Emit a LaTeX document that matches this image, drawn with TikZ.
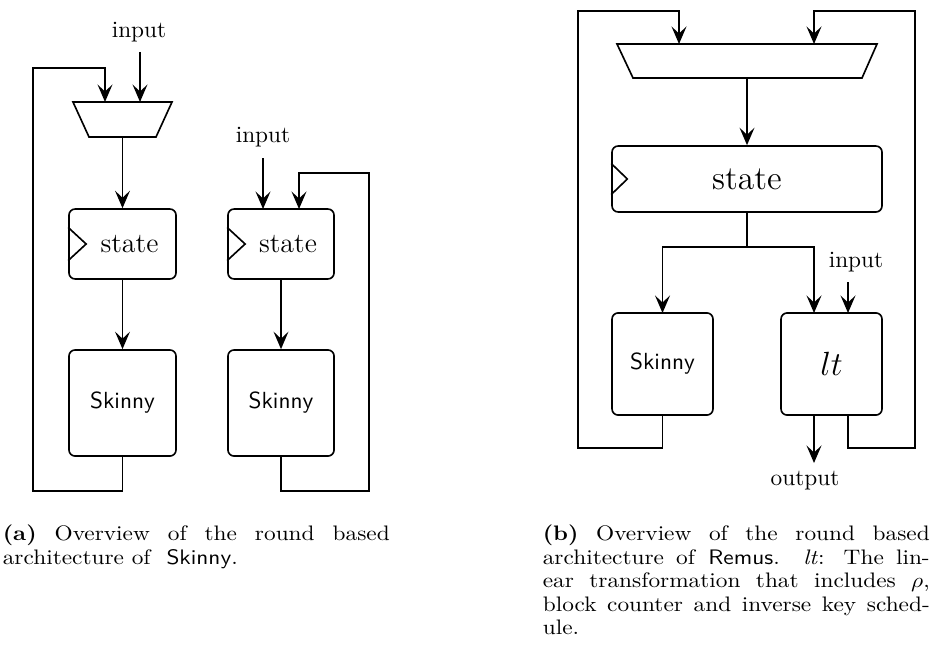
\documentclass[tikz,border=0pt]{standalone}
\usepackage{graphicx}
\usetikzlibrary{arrows.meta}
% caption lines are set slightly compressed in height
\newcommand{\capline}[1]{\scalebox{1}[0.9]{#1}}
\begin{document}
\begin{tikzpicture}[
  x=0.429pt, y=-0.429pt,
  line width=0.7pt,
  arr/.style={-{Stealth[length=7.5pt,width=6.4pt,inset=3pt]}},
  wire/.style={line join=miter},
  box/.style={draw, rectangle, rounded corners=2.6pt, inner sep=0pt},
  lbl/.style={inner sep=0pt, anchor=base, font=\fontsize{10}{12}\selectfont},
  captxt/.style={inner sep=0pt, anchor=base west, font=\fontsize{10}{10.2}\selectfont},
]
\useasboundingbox (0,0) rectangle (936,657);

% ---------------- (a) left: multiplexed round function ----------------
\node[lbl] (inA) at (139,37.5) {input};
\draw (73,102) -- (172,102) -- (156,137) -- (89,137) -- cycle;
\coordinate (muxAfb) at (105,102);
\coordinate (muxAin) at (140,102);
\coordinate (muxAout) at (122.5,137);
\coordinate (inAstart) at (140,52);

\node[box, minimum width=45.9pt, minimum height=30pt, font=\large] (stA) at (122.5,244) {\hspace*{6pt}state};
\draw ([yshift=7.1pt]stA.west) -- ([xshift=7.7pt]stA.west) -- ([yshift=-7.1pt]stA.west);
\node[box, minimum width=45.9pt, minimum height=45.5pt, font=\sffamily] (skA) at (122.5,403) {Skinny};

\draw[arr] (inAstart) -- (muxAin);
\draw[arr] (muxAout) -- (stA.north);
\draw[arr] (stA.south) -- (skA.north);
\draw[arr, wire] (skA.south) -- (122.5,491) -- (33,491) -- (33,68) -- (105,68) -- (muxAfb);

% ---------------- (a) right: register with feedback ----------------
\node[lbl] (inB) at (263,142.5) {input};
\coordinate (inBstart) at (263,158);
\node[box, minimum width=45.5pt, minimum height=30pt, font=\large] (stB) at (281,244) {\hspace*{6pt}state};
\draw ([yshift=7.1pt]stB.west) -- ([xshift=7.7pt]stB.west) -- ([yshift=-7.1pt]stB.west);
\node[box, minimum width=45.5pt, minimum height=45.5pt, font=\sffamily] (skB) at (281,403) {Skinny};
\coordinate (stBin) at (263,209);
\coordinate (stBfb) at (299,209);

\draw[arr] (inBstart) -- (stBin);
\draw[arr] (stB.south) -- (skB.north);
\draw[arr, wire] (skB.south) -- (281,491) -- (369,491) -- (369,173) -- (299,173) -- (stBfb);

% ---------------- (b) Remus ----------------
\draw (617,44) -- (877,44) -- (862,78) -- (633,78) -- cycle;
\coordinate (muxCl) at (679,44);
\coordinate (muxCr) at (814,44);
\coordinate (muxCout) at (747,78);

\node[box, minimum width=115.8pt, minimum height=28.3pt, font=\Large] (stC) at (747,179) {state};
\draw ([yshift=6.65pt]stC.west) -- ([xshift=6.9pt]stC.west) -- ([yshift=-6.65pt]stC.west);

\node[box, minimum width=43.3pt, minimum height=43.8pt, font=\sffamily] (skC) at (662.5,364) {Skinny};
\node[box, minimum width=43.3pt, minimum height=43.8pt, font=\Large] (lt) at (831.5,364) {$lt$};

\coordinate (split) at (747,247);
\coordinate (skCin) at (662.5,313);
\coordinate (ltin) at (814,313);
\coordinate (ltkey) at (848,313);
\coordinate (ltout) at (814,415);
\coordinate (ltfb) at (848,415);
\coordinate (outend) at (814,463);
\node[lbl] (inC) at (856,267.5) {input};
\coordinate (inCstart) at (848,282);
\node[lbl] (outC) at (805,485.5) {output};

\draw[arr] (muxCout) -- (stC.north);
\draw[arr, wire] (stC.south) -- (split) -| (skCin);
\draw[arr, wire] (split) -| (ltin);
\draw[arr] (inCstart) -- (ltkey);
\draw[arr] (ltout) -- (outend);
\draw[arr, wire] (skC.south) -- (662.5,448) -- (578,448) -- (578,11) -- (679,11) -- (muxCl);
\draw[arr, wire] (ltfb) -- (848,448) -- (915,448) -- (915,11) -- (814,11) -- (muxCr);

% ---------------- captions ----------------
\node[captxt] (capA1) at (2,540.5) {\capline{\makebox[166pt][s]{\textbf{(a)} Overview of the round based}}};
\node[captxt] (capA2) at (2,564) {\capline{architecture of\hspace{3.5pt} \textsf{Skinny}.}};

\node[captxt] (capB1) at (542,540.5) {\capline{\makebox[166pt][s]{\textbf{(b)} Overview of the round based}}};
\node[captxt] (capB2) at (542,564) {\capline{\makebox[166pt][s]{architecture of \textsf{Remus}. \textit{lt}: The lin-}}};
\node[captxt] (capB3) at (542,587.5) {\capline{\makebox[166pt][s]{ear transformation that includes $\rho$,}}};
\node[captxt] (capB4) at (542,611) {\capline{\makebox[166pt][s]{block counter and inverse key sched-}}};
\node[captxt] (capB5) at (542,634) {\capline{ule.}};
\end{tikzpicture}
\end{document}
